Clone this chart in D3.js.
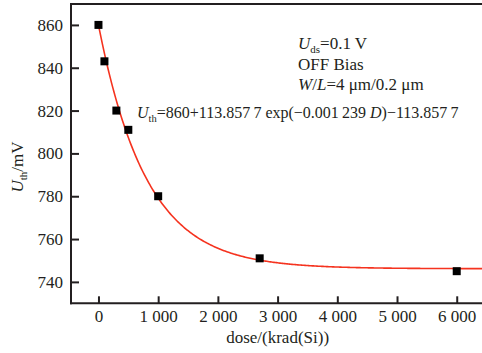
<!DOCTYPE html>
<html>
<head>
<meta charset="utf-8">
<script src="https://cdn.jsdelivr.net/npm/d3@7"></script>
<style>
  html, body { margin: 0; padding: 0; background: #fff; }
  svg { display: block; }
  text { font-family: "Liberation Serif", "Times New Roman", serif; fill: #231f20; }
</style>
</head>
<body>
<svg id="chart" width="482" height="353"></svg>
<script>
// Measured threshold voltage vs total ionizing dose
const doses = [0, 100, 300, 500, 1000, 2700, 6000];          // krad(Si)
const uth   = [860, 843, 820, 811, 780, 751, 745];            // mV

// Tick values
const xTicks = [0, 1000, 2000, 3000, 4000, 5000, 6000];
const yTicks = [740, 760, 780, 800, 820, 840, 860];

// Exponential fit: Uth = a + b*exp(-c*D) - b
const fitParams = [860, 113.8577, 0.001239];

const W = 482, H = 353;
const svg = d3.select("#chart");
const ink = "#231f20";

const x = d3.scaleLinear().domain([-460, 6440]).range([71, 483]);
const y = d3.scaleLinear().domain([730, 870]).range([303.3, 3.5]);

// Frame: left axis, bottom axis and top border (open on the right)
svg.append("line").attr("x1", 71).attr("x2", W).attr("y1", 4).attr("y2", 4)
  .attr("stroke", ink).attr("stroke-width", 2);

const gx = svg.append("g").attr("transform", `translate(0,${y(730)})`)
  .call(d3.axisBottom(x).tickValues(xTicks).tickSize(-7).tickPadding(7)
    .tickFormat(d => d === 0 ? "0" : String(d).slice(0, -3) + " " + String(d).slice(-3)));
gx.select(".domain").remove();
svg.append("line").attr("x1", 70).attr("x2", W).attr("y1", y(730)).attr("y2", y(730))
  .attr("stroke", ink).attr("stroke-width", 2);

const gy = svg.append("g").attr("transform", `translate(${x(-460)},0)`)
  .call(d3.axisLeft(y).tickValues(yTicks).tickSize(-8).tickPadding(8));
gy.select(".domain").remove();
svg.append("line").attr("x1", 71).attr("x2", 71).attr("y1", 3).attr("y2", y(730) + 1)
  .attr("stroke", ink).attr("stroke-width", 2);

[gx, gy].forEach(g => {
  g.selectAll(".tick line").attr("stroke", ink).attr("stroke-width", 2);
  g.selectAll(".tick text").attr("fill", ink)
    .style("font-family", '"Liberation Serif", serif').style("font-size", "17px");
});

// Fitted curve
const [a, b, c] = fitParams;
const fitD = d3.range(0, 6441, 20);
const line = d3.line().x(d => x(d)).y(d => y(a + b * Math.exp(-c * d) - b));
svg.append("path").datum(fitD).attr("d", line)
  .attr("fill", "none").attr("stroke", "#f5331f").attr("stroke-width", 1.6);

// Measured points
const sq = 8;
svg.selectAll("rect.pt").data(doses.map((d, i) => [d, uth[i]])).enter()
  .append("rect").attr("class", "pt")
  .attr("x", d => x(d[0]) - sq / 2).attr("y", d => y(d[1]) - sq / 2)
  .attr("width", sq).attr("height", sq).attr("fill", "#000");

// Axis titles
svg.append("text").attr("x", x(3000)).attr("y", 343).attr("text-anchor", "middle")
  .style("font-size", "17px").text("dose/(krad(Si))");

const yl = svg.append("text").attr("transform", "translate(23,167) rotate(-90)")
  .attr("text-anchor", "middle").style("font-size", "17px");
yl.append("tspan").attr("font-style", "italic").text("U");
yl.append("tspan").attr("dy", 4).style("font-size", "11px").text("th");
yl.append("tspan").attr("dy", -4).text("/mV");

// Test conditions
const note = svg.append("g").style("font-size", "17px");
const t1 = note.append("text").attr("x", 298).attr("y", 49);
t1.append("tspan").attr("font-style", "italic").text("U");
t1.append("tspan").attr("dy", 4).style("font-size", "11px").text("ds");
t1.append("tspan").attr("dy", -4).text("=0.1 V");
note.append("text").attr("x", 298).attr("y", 70).text("OFF Bias");
const t3 = note.append("text").attr("x", 298).attr("y", 90);
t3.append("tspan").attr("font-style", "italic").text("W");
t3.append("tspan").text("/");
t3.append("tspan").attr("font-style", "italic").text("L");
t3.append("tspan").text("=4 \u03bcm/0.2 \u03bcm");

// Fit equation
const eq = svg.append("text").attr("x", 137).attr("y", 118).style("font-size", "16px");
eq.append("tspan").attr("font-style", "italic").text("U");
eq.append("tspan").attr("dy", 4).style("font-size", "10.5px").text("th");
eq.append("tspan").attr("dy", -4).text("=860+113.857\u20097 exp(\u22120.001\u2009239 ");
eq.append("tspan").attr("font-style", "italic").text("D");
eq.append("tspan").text(")\u2212113.857\u20097");
</script>
</body>
</html>
